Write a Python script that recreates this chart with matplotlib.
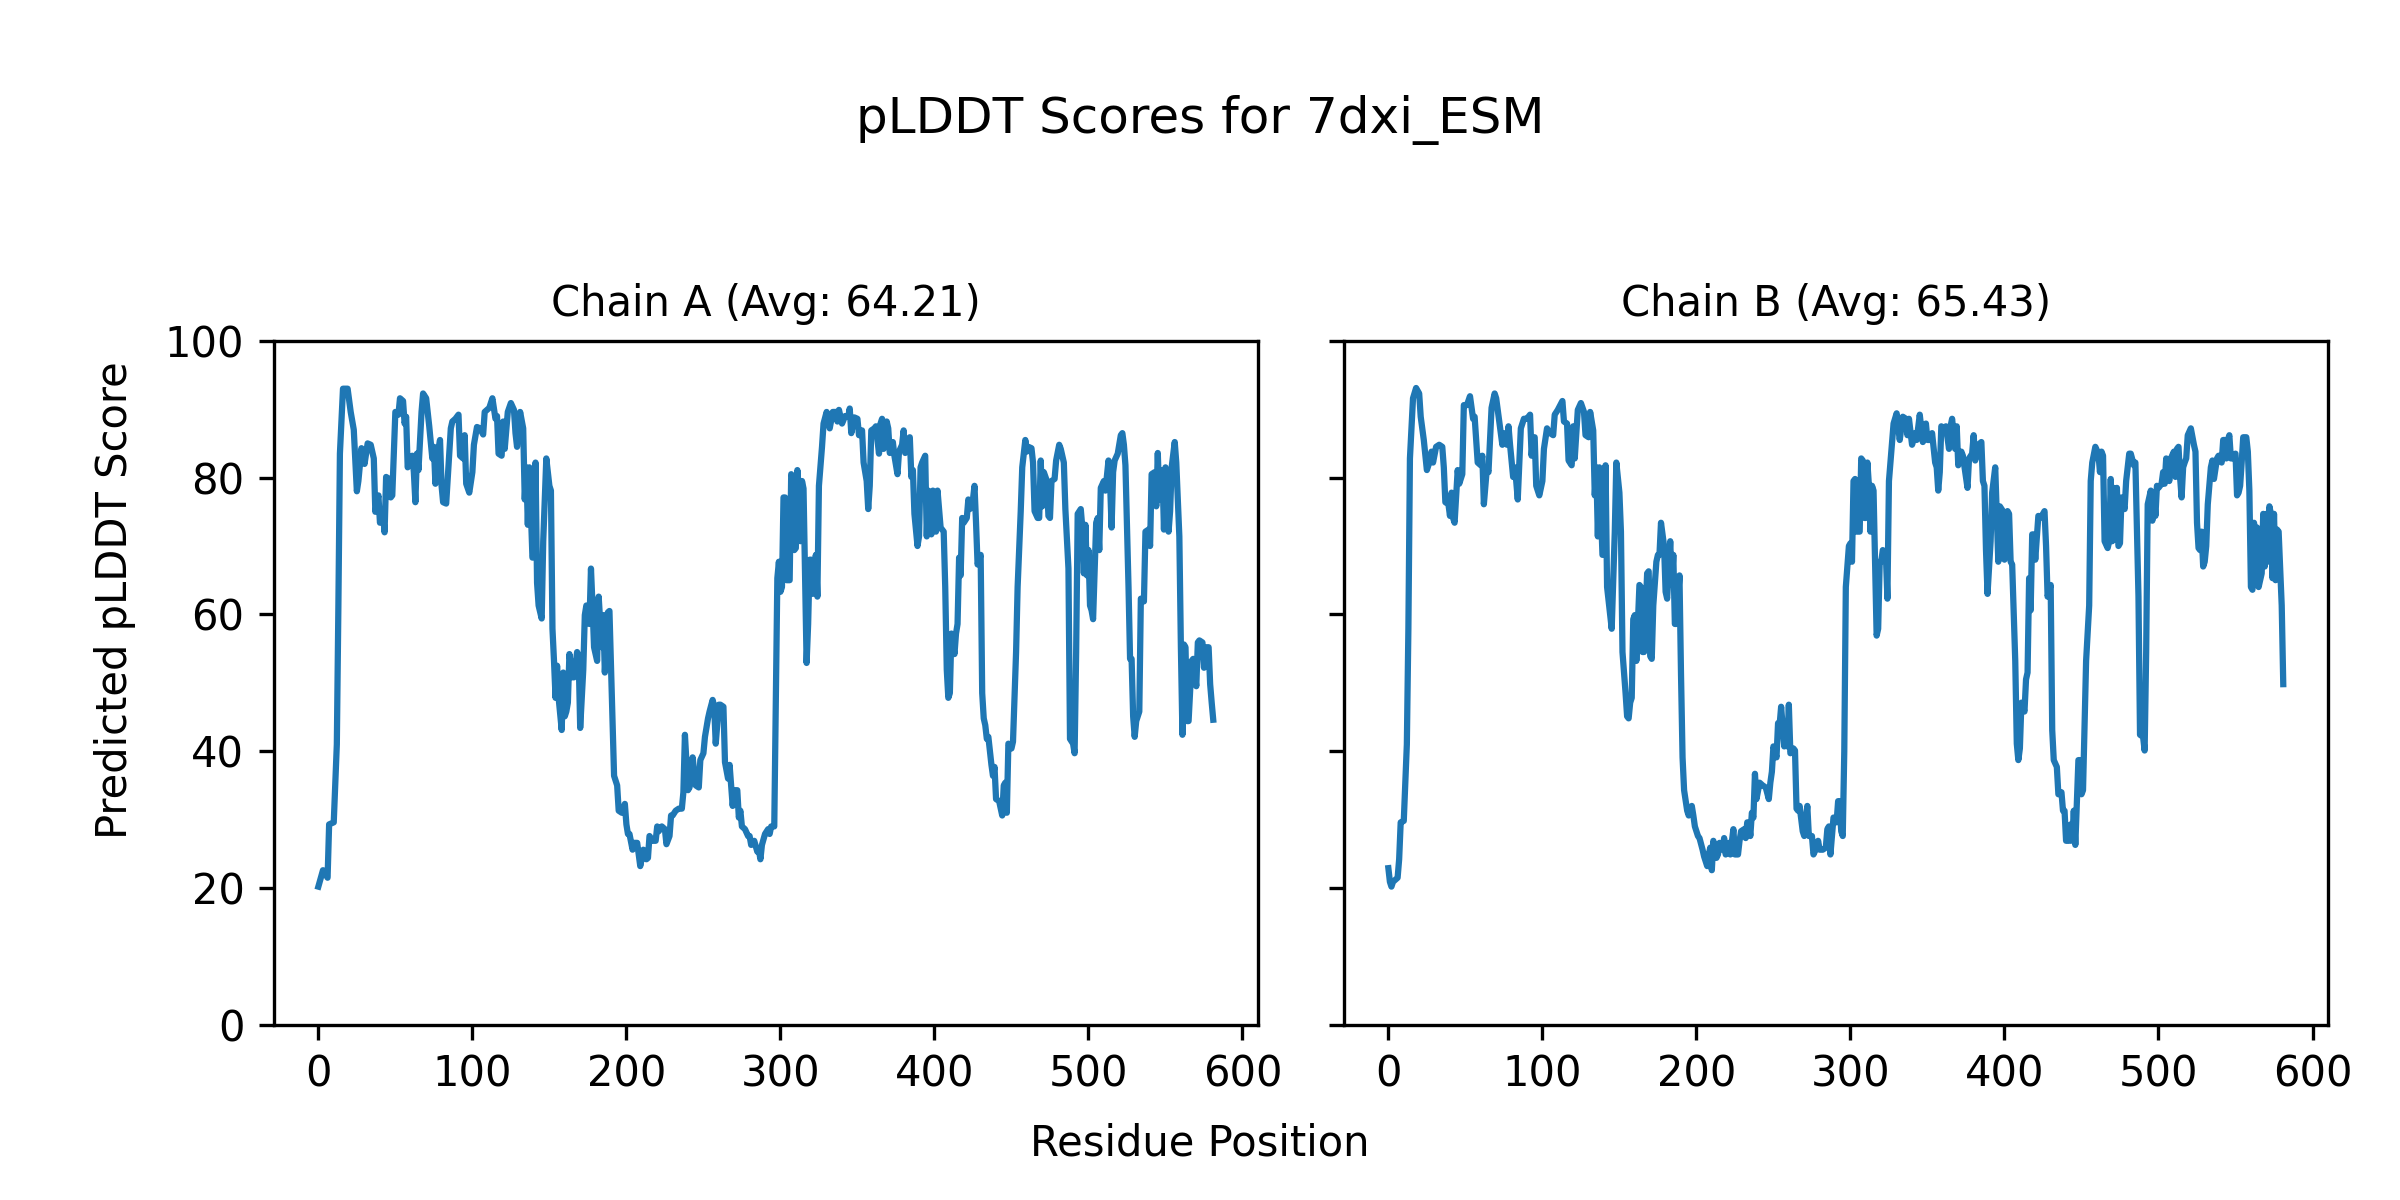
import matplotlib
matplotlib.use("Agg")
from matplotlib import pyplot as plt

# Residue positions and pLDDT values
res_a = [0, 3, 6, 7, 10, 12, 13, 14, 16, 19, 21, 23, 25, 26, 28, 30, 32, 34, 36, 37,
         39, 40, 42, 43, 44, 46, 47, 48, 50, 52, 53, 55, 56, 57, 58, 61, 62, 63, 64, 65,
         67, 68, 70, 72, 74, 75, 76, 78, 79, 80, 81, 83, 86, 87, 89, 91, 92, 94, 95, 96,
         98, 100, 101, 103, 105, 107, 108, 111, 113, 115, 116, 117, 119, 120, 121, 123, 125, 127, 128, 129,
         131, 133, 134, 135, 136, 137, 139, 140, 141, 142, 143, 145, 146, 148, 150, 151, 152, 153, 154, 155,
         156, 158, 159, 160, 161, 162, 163, 165, 166, 168, 169, 170, 172, 173, 174, 176, 177, 178, 179, 181,
         182, 184, 185, 186, 188, 189, 191, 192, 194, 195, 197, 199, 200, 201, 202, 204, 205, 207, 208, 209,
         211, 213, 214, 215, 217, 219, 220, 221, 223, 225, 226, 228, 229, 230, 232, 234, 236, 237, 238, 240,
         241, 243, 244, 245, 247, 248, 250, 251, 253, 254, 256, 257, 258, 260, 261, 263, 264, 266, 267, 269,
         270, 272, 273, 274, 275, 277, 279, 280, 281, 283, 285, 286, 287, 288, 290, 292, 293, 294, 296, 297,
         298, 299, 300, 301, 302, 303, 304, 306, 307, 308, 309, 310, 311, 312, 313, 314, 315, 317, 318, 319,
         320, 321, 323, 324, 325, 327, 328, 330, 331, 332, 334, 336, 337, 338, 340, 342, 344, 345, 346, 348,
         350, 351, 353, 354, 356, 357, 358, 359, 361, 362, 364, 365, 366, 367, 369, 370, 371, 373, 374, 376,
         377, 379, 380, 381, 382, 384, 385, 386, 387, 389, 390, 391, 392, 394, 395, 396, 398, 399, 401, 402,
         404, 406, 407, 408, 409, 410, 411, 413, 414, 415, 416, 417, 418, 419, 421, 422, 423, 425, 426, 427,
         428, 430, 431, 432, 433, 434, 435, 437, 438, 439, 440, 442, 444, 445, 446, 447, 448, 450, 451, 453,
         454, 456, 457, 459, 460, 461, 463, 464, 465, 467, 468, 469, 470, 471, 473, 474, 475, 476, 478, 479,
         481, 482, 484, 485, 487, 488, 490, 491, 492, 493, 495, 496, 497, 498, 499, 500, 501, 502, 503, 505,
         506, 507, 508, 510, 511, 513, 514, 515, 516, 517, 519, 521, 522, 523, 524, 526, 527, 528, 529, 530,
         531, 533, 534, 536, 537, 539, 540, 541, 543, 544, 545, 546, 547, 548, 549, 550, 552, 553, 554, 556,
         557, 559, 560, 561, 562, 563, 564, 565, 567, 568, 570, 571, 572, 574, 575, 576, 578, 579, 580, 581]
plddt_a = [20.2, 22.6, 21.5, 29.3, 29.6, 41.0, 61.0, 83.5, 93.0, 93.0, 89.6, 87.0, 78.0, 79.5, 84.3, 82.0, 85.0, 84.8, 82.8, 75.0,
           77.4, 73.4, 74.7, 72.0, 80.1, 79.8, 77.1, 77.4, 89.6, 89.2, 91.6, 91.2, 87.9, 88.9, 81.5, 83.2, 80.8, 76.4, 83.5, 81.1,
           89.6, 92.3, 91.6, 87.5, 82.8, 84.5, 79.1, 84.2, 85.5, 78.8, 76.4, 76.2, 87.2, 88.2, 88.6, 89.2, 83.2, 82.8, 86.2, 79.1,
           77.8, 80.8, 84.8, 87.4, 87.2, 86.3, 89.6, 90.2, 91.6, 88.6, 89.0, 83.5, 83.2, 88.2, 84.2, 89.6, 90.9, 89.9, 86.5, 84.5,
           89.6, 87.2, 76.8, 81.5, 73.1, 81.5, 68.3, 68.7, 82.2, 64.6, 61.3, 59.4, 70.7, 82.8, 78.8, 78.1, 57.9, 53.2, 47.8, 52.5,
           47.8, 43.1, 51.5, 45.1, 45.8, 47.1, 54.2, 50.8, 50.8, 54.5, 53.9, 43.4, 51.9, 59.9, 61.3, 58.6, 66.7, 61.3, 55.2, 53.2,
           62.6, 55.2, 59.9, 51.5, 60.3, 60.5, 44.4, 36.4, 35.0, 31.3, 31.0, 32.3, 29.3, 27.9, 27.9, 25.6, 26.6, 26.6, 24.9, 23.2,
           25.6, 24.2, 24.4, 27.6, 26.9, 26.9, 29.0, 28.3, 29.0, 28.6, 26.4, 27.6, 30.6, 30.6, 31.3, 31.6, 31.6, 34.0, 42.4, 34.3,
           34.7, 39.1, 37.0, 35.0, 34.7, 38.7, 39.7, 42.1, 44.8, 45.8, 47.5, 46.5, 41.1, 46.8, 46.8, 46.5, 38.4, 36.0, 38.0, 32.0,
           34.3, 34.3, 30.3, 31.3, 29.0, 28.6, 27.6, 27.6, 26.3, 26.9, 25.3, 25.6, 24.2, 26.3, 27.9, 28.6, 27.9, 29.0, 29.0, 47.8,
           65.3, 67.7, 63.3, 64.0, 77.1, 77.1, 65.0, 65.0, 80.5, 80.1, 69.4, 69.7, 81.1, 78.1, 70.7, 79.5, 78.4, 52.9, 58.6, 68.0,
           68.0, 63.0, 68.7, 62.6, 78.8, 84.5, 87.9, 89.6, 88.6, 87.2, 89.6, 89.6, 88.2, 89.9, 87.9, 89.0, 88.9, 90.1, 86.5, 88.8,
           88.6, 86.2, 86.9, 82.2, 79.5, 75.4, 78.8, 86.9, 87.2, 87.5, 83.5, 87.9, 88.6, 84.2, 88.2, 87.2, 83.6, 85.2, 83.2, 80.5,
           83.8, 84.8, 86.9, 83.6, 85.2, 85.9, 80.1, 81.1, 74.7, 70.0, 71.4, 81.5, 82.2, 83.2, 71.4, 78.1, 71.7, 78.1, 72.1, 78.1,
           72.7, 72.1, 64.0, 51.9, 47.8, 48.5, 57.2, 54.2, 57.2, 58.6, 68.3, 65.7, 74.1, 73.4, 74.1, 76.8, 75.4, 76.8, 78.8, 73.4,
           67.3, 68.7, 48.5, 44.8, 43.8, 41.8, 42.1, 38.0, 36.4, 37.7, 33.0, 32.7, 30.6, 35.0, 35.4, 31.0, 41.1, 40.4, 41.4, 54.5,
           64.0, 75.0, 81.5, 85.5, 83.8, 84.5, 84.3, 82.2, 75.1, 74.1, 74.1, 82.5, 75.8, 80.8, 79.5, 74.4, 74.1, 79.5, 79.8, 82.5,
           84.8, 84.2, 82.2, 75.4, 66.7, 41.8, 41.1, 39.7, 54.5, 74.7, 75.4, 72.7, 66.0, 73.1, 65.7, 69.4, 61.3, 60.6, 59.3, 73.4,
           74.1, 69.4, 78.5, 79.5, 78.1, 82.5, 79.5, 72.7, 80.8, 82.5, 83.5, 86.2, 86.5, 84.8, 81.8, 64.0, 53.5, 53.5, 45.1, 42.1,
           44.4, 45.8, 62.3, 61.9, 72.1, 72.4, 70.0, 80.5, 80.8, 75.8, 83.6, 76.8, 80.8, 81.1, 72.4, 81.5, 72.1, 75.1, 81.5, 85.2,
           82.2, 71.4, 55.2, 42.4, 55.6, 55.2, 44.4, 44.4, 53.2, 53.5, 49.5, 55.9, 56.2, 55.9, 52.2, 55.2, 55.2, 49.8, 47.1, 44.6]

res_b = [0, 1, 2, 3, 6, 7, 8, 10, 12, 13, 14, 16, 18, 20, 21, 23, 25, 26, 28, 29,
         31, 33, 35, 36, 37, 39, 40, 41, 42, 43, 45, 46, 48, 49, 51, 53, 55, 56, 58, 60,
         61, 62, 64, 65, 67, 69, 70, 72, 74, 75, 77, 78, 79, 81, 82, 83, 84, 86, 88, 90,
         92, 93, 94, 95, 96, 98, 100, 101, 103, 105, 107, 108, 110, 113, 114, 116, 117, 119, 120, 121,
         123, 125, 127, 128, 130, 131, 133, 134, 135, 136, 137, 139, 140, 141, 142, 144, 145, 147, 148, 150,
         151, 152, 154, 155, 156, 157, 158, 159, 160, 161, 163, 164, 165, 166, 168, 169, 170, 171, 172, 174,
         175, 176, 177, 179, 180, 181, 183, 184, 185, 186, 187, 189, 190, 191, 192, 194, 195, 197, 198, 199,
         201, 202, 204, 205, 207, 208, 209, 210, 211, 213, 214, 215, 217, 218, 219, 221, 222, 224, 225, 227,
         228, 229, 231, 232, 233, 234, 235, 236, 237, 238, 239, 241, 243, 245, 247, 248, 249, 250, 252, 253,
         254, 255, 257, 258, 259, 260, 261, 263, 264, 265, 266, 267, 269, 270, 272, 273, 275, 276, 278, 279,
         280, 282, 284, 285, 286, 287, 288, 289, 291, 292, 293, 294, 295, 296, 297, 299, 300, 301, 302, 303,
         304, 306, 307, 308, 309, 310, 311, 312, 313, 314, 315, 317, 318, 319, 320, 321, 323, 324, 325, 327,
         328, 330, 331, 332, 334, 336, 337, 338, 340, 342, 343, 345, 347, 349, 350, 352, 353, 355, 356, 357,
         358, 359, 361, 362, 364, 365, 366, 368, 369, 370, 372, 373, 376, 377, 379, 380, 381, 383, 385, 386,
         387, 388, 389, 391, 392, 394, 396, 397, 399, 400, 402, 403, 404, 405, 407, 408, 409, 410, 411, 413,
         414, 415, 416, 417, 418, 419, 420, 422, 423, 425, 426, 427, 428, 430, 431, 432, 434, 435, 437, 438,
         439, 440, 442, 443, 444, 445, 446, 448, 449, 450, 451, 452, 453, 455, 456, 457, 459, 461, 462, 463,
         464, 465, 467, 468, 469, 470, 471, 472, 473, 474, 475, 476, 478, 479, 481, 482, 484, 485, 486, 487,
         488, 490, 491, 492, 493, 495, 496, 497, 498, 499, 500, 502, 503, 504, 505, 507, 508, 510, 511, 512,
         513, 514, 515, 516, 517, 518, 519, 521, 523, 524, 525, 526, 527, 528, 529, 530, 531, 532, 534, 535,
         536, 538, 539, 541, 542, 543, 544, 545, 546, 547, 548, 550, 551, 552, 553, 554, 555, 557, 558, 559,
         560, 561, 562, 563, 564, 565, 567, 568, 569, 570, 571, 572, 573, 574, 575, 576, 577, 578, 580, 581]
plddt_b = [22.9, 20.9, 20.2, 20.9, 21.5, 24.2, 29.6, 29.8, 41.0, 57.9, 82.8, 91.6, 93.1, 92.3, 88.9, 85.5, 81.1, 81.8, 83.8, 82.2,
           84.5, 84.8, 84.5, 81.5, 76.4, 76.1, 74.4, 77.8, 74.1, 73.4, 81.1, 79.1, 80.5, 90.6, 90.6, 91.9, 88.6, 88.9, 82.2, 81.8,
           83.2, 76.1, 81.5, 80.8, 90.2, 92.3, 91.6, 88.2, 84.8, 86.5, 84.8, 87.5, 84.8, 80.1, 81.5, 79.5, 76.8, 87.2, 88.6, 88.6,
           89.2, 83.2, 85.9, 85.9, 78.8, 77.4, 79.5, 84.2, 87.2, 86.5, 86.2, 89.2, 89.9, 91.2, 88.2, 87.9, 82.5, 81.8, 87.5, 82.8,
           89.9, 90.9, 89.6, 86.2, 85.9, 89.6, 86.9, 77.4, 81.5, 71.4, 81.5, 68.7, 69.0, 81.8, 64.0, 59.9, 57.9, 72.1, 82.2, 77.8,
           72.1, 54.5, 48.5, 45.1, 44.8, 47.1, 47.8, 59.3, 59.9, 53.2, 64.3, 64.0, 54.5, 54.5, 66.0, 66.3, 53.9, 53.5, 61.3, 67.7,
           68.7, 68.7, 73.4, 70.0, 63.3, 62.3, 70.7, 64.3, 68.7, 58.6, 58.6, 65.7, 51.2, 39.1, 34.3, 31.3, 30.6, 32.0, 30.6, 29.0,
           27.6, 27.3, 25.6, 24.6, 23.2, 24.9, 25.9, 22.6, 26.9, 24.4, 24.9, 26.6, 25.6, 27.3, 24.9, 26.6, 24.9, 28.6, 24.9, 24.9,
           26.9, 28.3, 28.6, 27.3, 29.6, 29.6, 27.6, 31.0, 30.3, 36.7, 33.0, 35.4, 35.0, 34.7, 33.0, 35.4, 37.0, 40.7, 39.1, 44.1,
           43.8, 46.5, 40.7, 43.1, 40.7, 46.8, 39.7, 40.4, 40.1, 31.6, 31.3, 32.0, 28.3, 27.6, 32.0, 27.6, 27.6, 24.9, 25.9, 26.9,
           25.6, 25.6, 25.9, 28.6, 29.0, 24.9, 27.6, 30.3, 29.6, 32.7, 32.7, 28.3, 27.6, 40.0, 64.0, 70.0, 70.4, 67.7, 79.5, 79.8,
           72.1, 72.1, 82.8, 82.5, 74.1, 74.1, 82.2, 78.8, 72.1, 78.8, 78.1, 56.9, 57.9, 67.7, 67.7, 69.4, 68.7, 62.3, 79.5, 85.2,
           87.9, 89.4, 87.5, 85.5, 88.9, 88.6, 86.2, 88.6, 84.8, 86.5, 85.5, 89.2, 85.2, 87.9, 85.5, 85.5, 86.5, 82.2, 81.5, 78.1,
           80.8, 87.5, 87.2, 87.5, 84.2, 87.5, 88.6, 84.2, 87.5, 81.8, 83.8, 83.2, 78.5, 82.8, 83.5, 86.2, 82.5, 84.8, 85.2, 79.5,
           78.8, 69.4, 63.0, 70.7, 77.8, 81.5, 67.7, 75.8, 75.1, 68.0, 75.1, 74.7, 67.7, 67.3, 53.2, 41.1, 38.7, 40.4, 47.1, 45.8,
           50.5, 51.5, 65.3, 60.6, 71.7, 71.7, 68.0, 74.4, 74.1, 74.7, 75.1, 70.0, 62.6, 64.3, 43.1, 38.7, 37.7, 33.7, 34.0, 31.3,
           31.3, 26.9, 26.9, 29.3, 26.9, 31.3, 26.3, 38.7, 38.7, 33.7, 34.3, 43.8, 53.2, 61.3, 79.5, 82.2, 84.5, 83.5, 80.8, 83.8,
           83.2, 70.7, 69.7, 70.7, 79.8, 70.7, 78.5, 71.0, 78.5, 70.0, 70.4, 77.1, 75.4, 79.5, 83.5, 83.5, 81.8, 82.2, 72.1, 62.6,
           42.4, 42.1, 40.1, 54.5, 76.1, 78.1, 73.7, 77.4, 74.4, 78.8, 78.5, 79.1, 80.8, 79.1, 82.8, 79.5, 82.8, 83.8, 80.1, 84.2,
           84.5, 80.1, 77.1, 81.5, 82.2, 82.8, 86.2, 87.2, 84.8, 83.8, 73.4, 69.7, 69.4, 72.1, 67.0, 67.7, 70.0, 76.1, 81.5, 82.5,
           79.8, 82.8, 83.2, 82.2, 85.5, 85.5, 82.8, 85.5, 86.2, 82.8, 82.8, 83.5, 77.4, 77.8, 78.8, 82.2, 85.9, 85.9, 83.8, 78.1,
           64.0, 63.6, 73.4, 70.0, 72.7, 64.0, 66.0, 74.7, 67.0, 74.7, 67.7, 75.8, 74.7, 65.3, 74.7, 65.0, 72.4, 72.1, 61.3, 49.8]

chains = ["A", "B"]
averages = [64.21, 65.43]
positions = [res_a, res_b]
scores = [plddt_a, plddt_b]

fig, axes = plt.subplots(1, 2, figsize=(8, 4), dpi=300, sharey=True)
fig.subplots_adjust(left=0.114, right=0.97, bottom=0.146, top=0.716, wspace=0.087)

for ax, chain, avg, x, y in zip(axes, chains, averages, positions, scores):
    ax.plot(x, y)
    ax.set_title(f"Chain {chain} (Avg: {avg:.2f})", fontsize=10)
    ax.set_ylim(0, 100)

fig.suptitle("pLDDT Scores for 7dxi_ESM", y=0.9, va="center", fontsize=12)
fig.text(0.5, 0.047, "Residue Position", ha="center", va="center", fontsize=10)
fig.text(0.048, 0.5, "Predicted pLDDT Score", ha="center", va="center",
         rotation="vertical", fontsize=10)

fig.savefig("out.png", dpi=300)
